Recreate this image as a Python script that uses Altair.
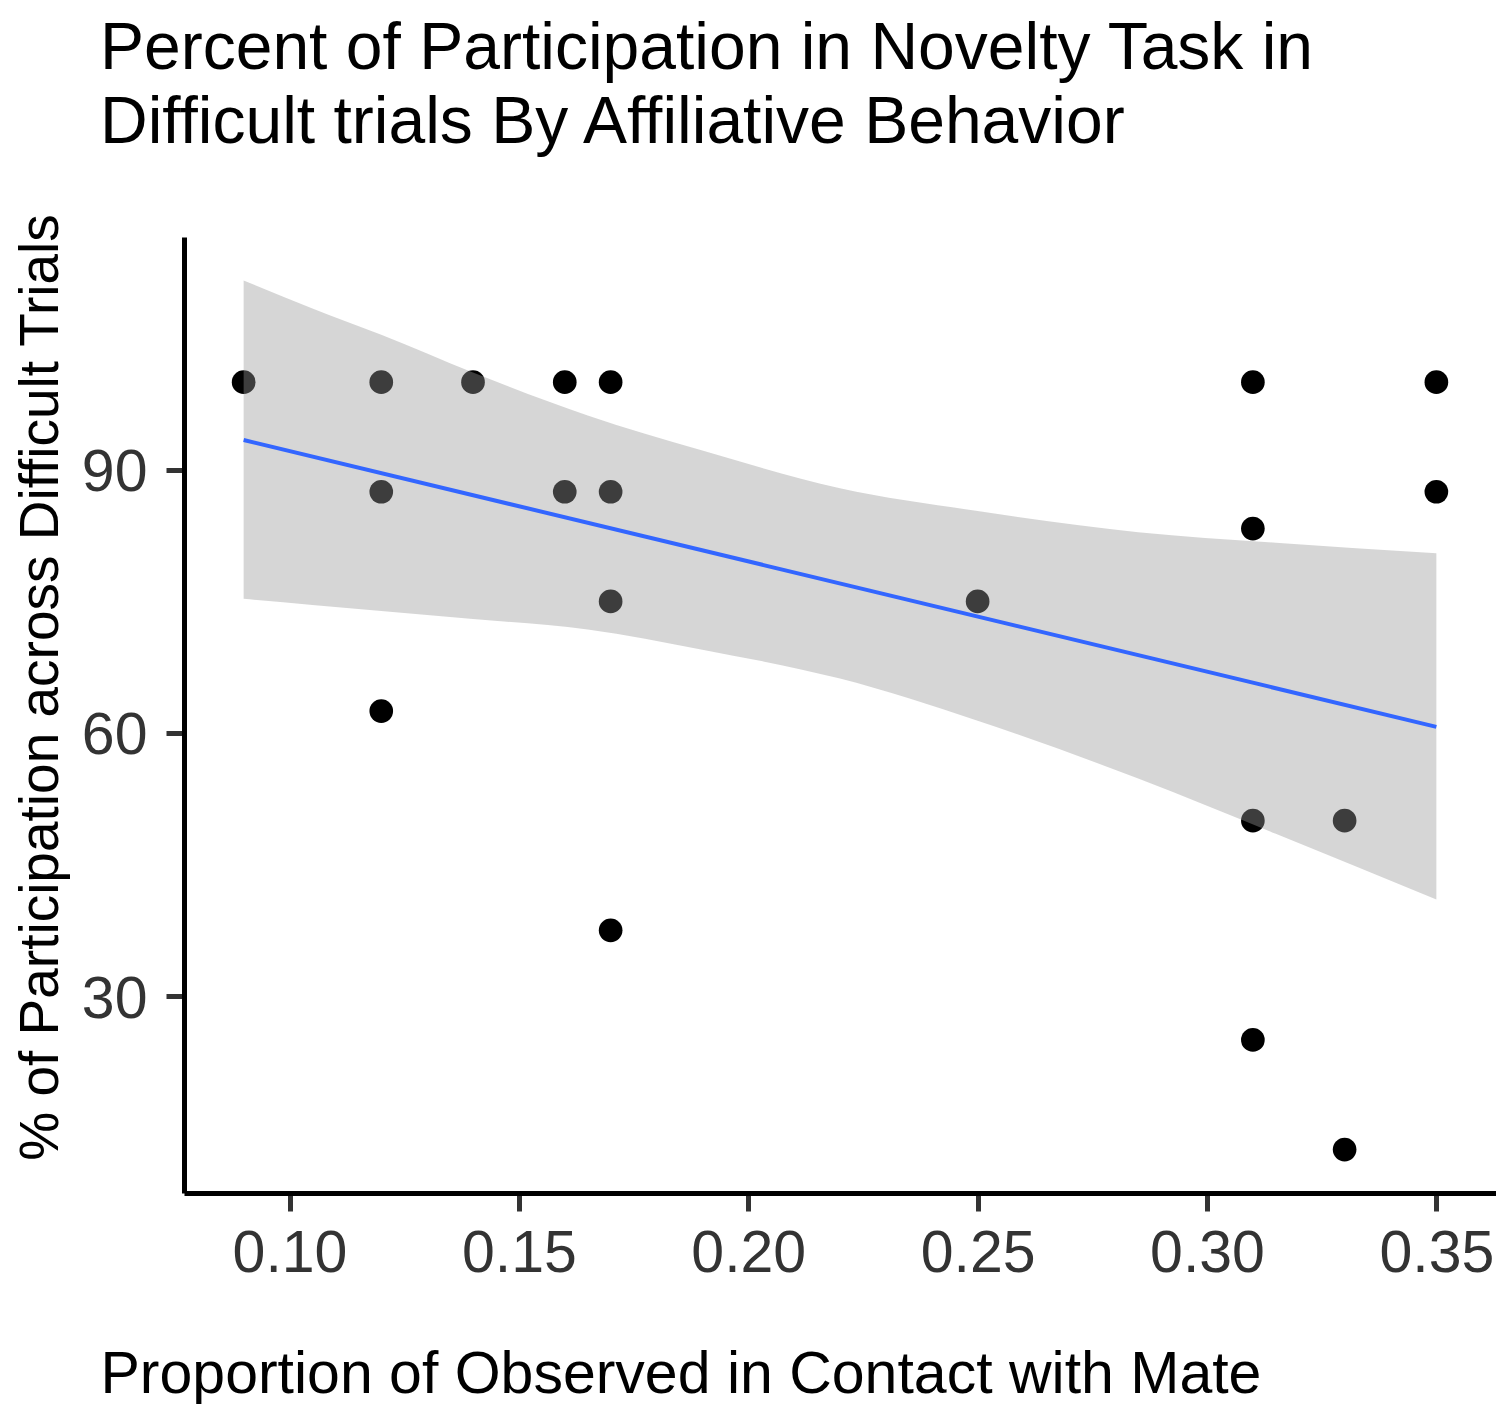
import altair as alt
import pandas as pd

# Observed points (x = proportion in contact with mate, y = % participation)
x_vals = [0.09, 0.12, 0.12, 0.12, 0.14, 0.16, 0.16, 0.17, 0.17, 0.17, 0.17,
          0.25, 0.31, 0.31, 0.31, 0.31, 0.33, 0.33, 0.35, 0.35]
y_vals = [100, 100, 87.5, 62.5, 100, 100, 87.5, 100, 87.5, 75, 37.5,
          75, 100, 83.3, 50, 25, 50, 12.5, 100, 87.5]

# Confidence band
band_x = [0.09, 0.105, 0.12, 0.14, 0.165, 0.19, 0.22, 0.25, 0.285, 0.315, 0.35]
band_upper = [111.6, 108.4, 105.4, 101.1, 96.2, 92.2, 87.9, 85.3, 82.9, 81.7, 80.5]
band_lower = [75.3, 74.6, 73.9, 73.0, 71.8, 69.5, 66.2, 61.4, 54.8, 48.5, 41.0]

# Fitted line end points
fit_x = [0.09, 0.35]
fit_y = [93.4, 60.7]

x_ticks = [0.10, 0.15, 0.20, 0.25, 0.30, 0.35]
y_ticks = [30, 60, 90]

title_lines = ["Percent of Participation in Novelty Task in",
               "Difficult trials By Affiliative Behavior"]
x_title = "Proportion of Observed in Contact with Mate"
y_title = "% of Participation across Difficult Trials"

FONT = "Liberation Sans"

pts = pd.DataFrame({"x": x_vals, "y": y_vals})
band = pd.DataFrame({"x": band_x, "lo": band_lower, "hi": band_upper})
fit = pd.DataFrame({"x": fit_x, "y": fit_y})

xscale = alt.Scale(domain=[0.077, 0.363], nice=False, zero=False)
yscale = alt.Scale(domain=[7.55, 116.55], nice=False, zero=False)

xaxis = alt.Axis(values=x_ticks, format=".2f", grid=False,
                 labelFont=FONT, labelFontSize=59, labelColor="#333333",
                 labelPadding=13, tickSize=18, tickWidth=5, tickColor="#333333",
                 domainColor="black", domainWidth=5,
                 title=x_title, titleFont=FONT, titleFontSize=59,
                 titleFontWeight="normal", titleColor="black",
                 titleAlign="left", titleBaseline="alphabetic",
                 titleX=-84, titleY=199)
yaxis = alt.Axis(values=y_ticks, grid=False,
                 labelFont=FONT, labelFontSize=59, labelColor="#333333",
                 labelPadding=19, labelOffset=3, tickSize=18, tickWidth=5,
                 tickColor="#333333", domainColor="black", domainWidth=5,
                 title=y_title, titleFont=FONT, titleFontSize=55,
                 titleFontWeight="normal", titleColor="black",
                 titleAngle=270, titleAlign="center", titleBaseline="alphabetic",
                 titleX=-127, titleY=450)

points = alt.Chart(pts).mark_circle(size=560, color="black", opacity=1).encode(
    x=alt.X("x:Q", scale=xscale, axis=xaxis),
    y=alt.Y("y:Q", scale=yscale, axis=yaxis),
)

ribbon = alt.Chart(band).mark_area(color="#999999", opacity=0.4,
                                   interpolate="monotone").encode(
    x=alt.X("x:Q", scale=xscale),
    y=alt.Y("lo:Q", scale=yscale),
    y2="hi:Q",
)

line = alt.Chart(fit).mark_line(color="#3366FF", strokeWidth=4).encode(
    x=alt.X("x:Q", scale=xscale),
    y=alt.Y("y:Q", scale=yscale),
)

chart = alt.layer(points, ribbon, line).properties(
    width=1312, height=956,
    background="white",
    title=alt.TitleParams(text=title_lines, anchor="start", frame="group",
                          font=FONT, fontSize=66, fontWeight="normal",
                          color="black", lineHeight=74, dx=-84, dy=-56, offset=0),
    autosize=alt.AutoSizeParams(type="none"),
    padding={"left": 176, "top": 229, "right": 0, "bottom": 211},
).configure_view(strokeWidth=0, stroke="transparent")

chart.save("out.html", embed_options={"renderer": "svg", "actions": False})
